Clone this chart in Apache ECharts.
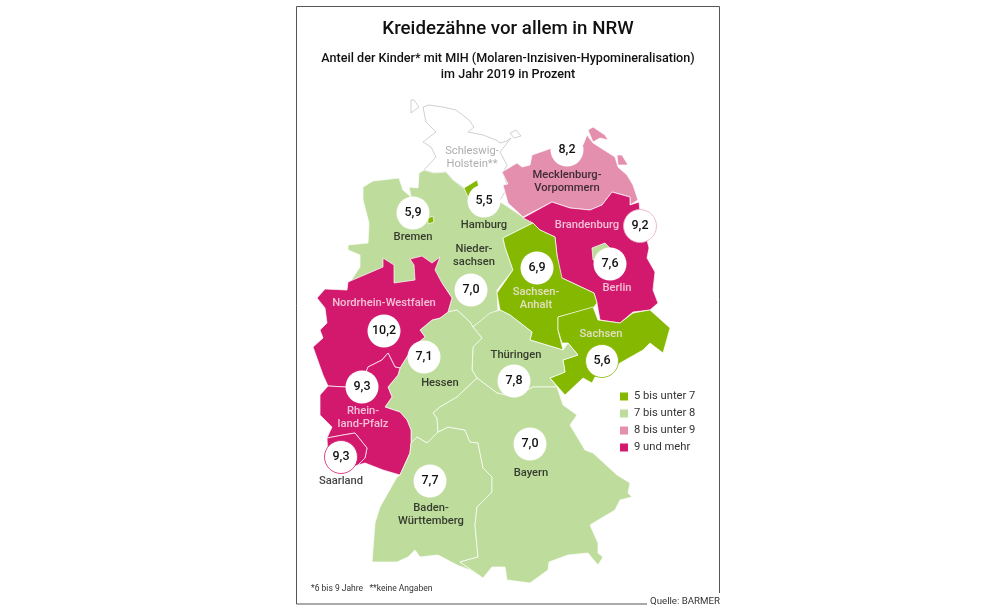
<!DOCTYPE html>
<html>
<head>
<meta charset="utf-8">
<title>Kreidezähne vor allem in NRW</title>
<script src="https://cdn.jsdelivr.net/npm/echarts@6/dist/echarts.min.js"></script>
<style>
  html, body { margin: 0; padding: 0; background: #fff; }
  #chart { width: 1000px; height: 613px; }
</style>
</head>
<body>
<div id="chart"></div>
<script>
// werte
var regionNames = ['Niedersachsen', 'Bremen', 'Hamburg', 'Mecklenburg-Vorpommern', 'Brandenburg', 'Berlin',
  'Sachsen-Anhalt', 'Sachsen', 'Nordrhein-Westfalen', 'Hessen', 'Thüringen', 'Rheinland-Pfalz', 'Saarland',
  'Baden-Württemberg', 'Bayern'];
var regionValues = [7.0, 5.9, 5.5, 8.2, 9.2, 7.6, 6.9, 5.6, 10.2, 7.1, 7.8, 9.3, 9.3, 7.7, 7.0];
var regionLabels = ['Nieder-\nsachsen', 'Bremen', 'Hamburg', 'Mecklenburg-\nVorpommern', 'Brandenburg', 'Berlin',
  'Sachsen-\nAnhalt', 'Sachsen', 'Nordrhein-Westfalen', 'Hessen', 'Thüringen', 'Rhein-\nland-Pfalz', 'Saarland',
  'Baden-\nWürttemberg', 'Bayern'];
var legendLabels = ['5 bis unter 7', '7 bis unter 8', '8 bis unter 9', '9 und mehr'];

var colors = ['#85b800', '#bedc9b', '#e48fae', '#d2196e'];

// umrisse der laender, reihenfolge = zeichenreihenfolge
var shapes = {
  'Schleswig-Holstein': [
    [[423,107],[429,105],[443,107],[456,110],[469,120],[474,127],[468,132],[483,135],[496,140],[500,143],[507,141],
     [511,138],[500,152],[507,165],[503,173],[508,187],[500,200],[464,188],[453,180],[446,172],[434,173],[424,170],
     [436,157],[431,147],[423,142],[436,132],[426,122]],
    [[411,100],[414,100],[419,107],[411,113]],
    [[510,133],[516,130],[521,136],[514,138]]
  ],
  'Niedersachsen': [
    [[363,187],[373,181],[399,178],[403,190],[411,197],[409,187],[418,188],[419,173],[424,170],[434,173],[446,172],
     [453,180],[466,190],[484,197],[502,203],[523,217],[533,223],[503,238],[505,247],[513,270],[497,290],[498,310],
     [473,327],[470,322],[457,310],[448,312],[452,298],[442,283],[420,290],[380,290],[350,282],[360,267],[360,255],
     [348,250],[348,245],[368,243],[369,223],[363,200]]
  ],
  'Bremen': [[[428,218],[433,216],[434,222],[428,224]]],
  'Hamburg': [[[464,188],[477,180],[479,187],[482,195],[476,205],[468,197]]],
  'Mecklenburg-Vorpommern': [
    [[502,172],[517,163],[522,167],[530,165],[532,155],[552,148],[567,140],[583,145],[587,135],[593,143],[615,157],
     [618,167],[627,175],[633,185],[638,200],[630,205],[630,197],[612,192],[602,205],[590,210],[570,208],[552,202],
     [523,217],[508,203],[503,185],[508,184]],
    [[588,130],[593,127],[605,135],[608,140],[600,138],[593,142]],
    [[617,155],[622,155],[628,165],[618,165]]
  ],
  'Brandenburg': [
    [[523,218],[552,202],[570,208],[590,210],[602,205],[612,192],[630,197],[630,205],[639,202],[640,212],[649,248],
     [647,258],[655,272],[653,290],[658,303],[650,310],[633,312],[620,323],[600,320],[597,303],[594,293],[560,277],
     [557,255],[555,237],[540,230],[533,223]]
  ],
  'Berlin': [[[592,248],[605,243],[612,250],[605,262],[593,260]]],
  'Sachsen-Anhalt': [
    [[503,238],[533,223],[540,230],[555,237],[557,255],[562,278],[594,293],[597,303],[593,308],[558,317],[558,330],
     [563,350],[530,340],[532,332],[510,315],[500,310],[497,293],[513,270],[505,247]]
  ],
  'Sachsen': [
    [[558,317],[593,307],[598,320],[620,323],[633,313],[650,310],[670,328],[663,353],[650,343],[643,350],[620,363],
     [603,377],[595,377],[592,383],[583,378],[565,395],[550,378],[565,372],[563,360],[578,355],[568,343],[562,343],[558,330]]
  ],
  'Thüringen': [
    [[473,327],[490,313],[500,310],[510,315],[532,332],[530,340],[563,350],[568,343],[578,355],[563,360],[565,372],
     [550,378],[557,387],[533,387],[515,397],[497,393],[477,378],[472,370],[473,347],[482,338]]
  ],
  'Hessen': [
    [[448,312],[457,310],[470,322],[473,327],[482,338],[473,347],[472,370],[477,378],[457,397],[440,407],[433,413],
     [437,418],[438,432],[427,443],[417,437],[411,443],[411,430],[407,420],[400,412],[385,407],[392,397],[388,387],
     [398,375],[400,368],[413,347],[425,337],[420,330],[432,320],[440,318]]
  ],
  'Nordrhein-Westfalen': [
    [[348,282],[383,267],[383,258],[394,265],[394,283],[415,280],[414,265],[410,259],[422,256],[432,263],[440,257],
     [435,270],[442,283],[452,298],[448,312],[440,318],[432,320],[420,330],[425,337],[413,347],[400,368],[395,367],
     [388,353],[382,360],[368,367],[363,380],[345,387],[328,386],[323,375],[313,347],[323,338],[320,330],[327,323],
     [325,308],[317,298],[325,289],[347,290]]
  ],
  'Rheinland-Pfalz': [
    [[328,386],[345,387],[363,380],[368,367],[382,360],[388,353],[395,367],[400,368],[398,375],[388,387],[392,397],
     [385,407],[400,412],[407,420],[411,430],[411,443],[410,453],[400,475],[383,470],[365,463],[358,465],[365,458],
     [367,448],[355,433],[343,435],[327,438],[332,427],[320,415],[320,395]]
  ],
  'Saarland': [[[327,438],[343,435],[355,433],[367,448],[365,458],[358,465],[341,470],[328,460]]],
  'Baden-Württemberg': [
    [[411,443],[417,437],[427,443],[438,432],[448,427],[465,430],[470,442],[478,443],[483,468],[492,477],[492,492],
     [477,507],[475,525],[478,557],[460,562],[483,578],[470,570],[457,565],[438,555],[420,557],[415,550],[408,557],
     [397,562],[383,562],[372,562],[375,523],[380,507],[397,477],[400,475],[410,453]]
  ],
  'Bayern': [
    [[438,432],[437,418],[433,413],[440,407],[457,397],[477,378],[497,393],[515,397],[533,387],[557,387],[563,405],
     [577,415],[570,425],[585,450],[593,453],[617,475],[630,483],[628,493],[632,497],[620,500],[615,510],[590,525],
     [598,543],[598,553],[603,557],[598,565],[588,553],[568,555],[549,562],[548,570],[530,583],[507,580],[505,567],
     [492,567],[483,578],[460,562],[478,557],[475,525],[477,507],[492,492],[492,477],[483,468],[478,443],[470,442],
     [465,430],[448,427]]
  ]
};

// ankerpunkte der kreise und der namen auf der karte
var circleAnchors = {
  'Niedersachsen': [471,290], 'Bremen': [413,213], 'Hamburg': [484,201], 'Mecklenburg-Vorpommern': [567,150],
  'Brandenburg': [640,226], 'Berlin': [610,264], 'Sachsen-Anhalt': [537,268], 'Sachsen': [602,361],
  'Nordrhein-Westfalen': [384,331], 'Hessen': [424,357], 'Thüringen': [514,381], 'Rheinland-Pfalz': [362,387],
  'Saarland': [341,457], 'Baden-Württemberg': [430,481], 'Bayern': [530,444]
};
var labelAnchors = {
  'Niedersachsen': [474,256], 'Bremen': [413,237], 'Hamburg': [484,225], 'Mecklenburg-Vorpommern': [567,182],
  'Brandenburg': [587,225], 'Berlin': [617,288], 'Sachsen-Anhalt': [536,299], 'Sachsen': [601,334],
  'Nordrhein-Westfalen': [384,303], 'Hessen': [440,383], 'Thüringen': [516,355], 'Rheinland-Pfalz': [363,418],
  'Saarland': [341,481], 'Baden-Württemberg': [431,515], 'Bayern': [531,473]
};
var whiteLabels = ['Brandenburg', 'Berlin', 'Sachsen-Anhalt', 'Sachsen', 'Nordrhein-Westfalen', 'Rheinland-Pfalz'];
var ringColors = { 'Brandenburg': '#e8a9c4', 'Sachsen': '#85b800', 'Saarland': '#d2196e' };

var fontName = 'Roboto, sans-serif';

var features = [];
for (var key in shapes) {
  features.push({
    type: 'Feature',
    properties: { name: key },
    geometry: { type: 'MultiPolygon', coordinates: shapes[key].map(function (ring) { return [ring]; }) }
  });
}
echarts.registerMap('deutschland', { type: 'FeatureCollection', features: features });

var chart = echarts.init(document.getElementById('chart'));

var option = {
  animation: false,
  backgroundColor: '#fff',
  title: [
    { text: 'Kreidezähne vor allem in NRW', left: 508, top: 20, padding: 0, textAlign: 'center',
      textStyle: { fontFamily: fontName, fontSize: 18.7, fontWeight: 500, color: '#111' } },
    { text: 'Anteil der Kinder* mit MIH (Molaren-Inzisiven-Hypomineralisation)\nim Jahr 2019 in Prozent', left: 508, top: 51, padding: 0, textAlign: 'center',
      textStyle: { fontFamily: fontName, fontSize: 12.6, fontWeight: 500, color: '#111', lineHeight: 16 } },
    { text: '*6 bis 9 Jahre   **keine Angaben', left: 311, top: 584, padding: 0,
      textStyle: { fontFamily: fontName, fontSize: 8.5, fontWeight: 400, color: '#333' } },
    { text: 'Quelle: BARMER', left: 650, top: 597, padding: 0,
      textStyle: { fontFamily: fontName, fontSize: 9.7, fontWeight: 400, color: '#333' } }
  ],
  geo: {
    map: 'deutschland',
    silent: true,
    roam: false,
    projection: {
      project: function (p) { return p; },
      unproject: function (p) { return p; }
    },
    boundingCoords: [[0, 0], [1000, 613]],
    layoutCenter: ['50%', '50%'],
    layoutSize: 1000,
    itemStyle: { areaColor: '#fff', borderColor: '#fff', borderWidth: 0.7 },
    label: { show: false },
    emphasis: { disabled: true },
    regions: [{ name: 'Schleswig-Holstein', itemStyle: { areaColor: '#fff', borderColor: '#c4c4c4', borderWidth: 0.8 } }]
  },
  visualMap: {
    type: 'piecewise',
    seriesIndex: 0,
    orient: 'vertical',
    inverse: true,
    align: 'left',
    left: 605,
    top: 376,
    itemWidth: 8,
    itemHeight: 8,
    itemGap: 6,
    itemSymbol: 'rect',
    selectedMode: false,
    hoverLink: false,
    textGap: 6,
    textStyle: { fontFamily: fontName, fontSize: 11.2, color: '#333' },
    pieces: [
      { gte: 5, lt: 7, label: legendLabels[0], color: colors[0] },
      { gte: 7, lt: 8, label: legendLabels[1], color: colors[1] },
      { gte: 8, lt: 9, label: legendLabels[2], color: colors[2] },
      { gte: 9, label: legendLabels[3], color: colors[3] }
    ]
  },
  graphic: [
    { type: 'polyline', silent: true,
      shape: { points: [[647, 604], [296.5, 604], [296.5, 6.5], [719.5, 6.5], [719.5, 593]] },
      style: { stroke: '#555', lineWidth: 1, fill: null } }
  ],
  series: [
    {
      type: 'map',
      geoIndex: 0,
      silent: true,
      data: regionNames.map(function (name, i) { return { name: name, value: regionValues[i] }; })
    },
    {
      type: 'scatter',
      coordinateSystem: 'geo',
      silent: true,
      symbol: 'circle',
      symbolSize: 33,
      z: 3,
      itemStyle: { color: '#fff', opacity: 1 },
      label: {
        show: true,
        position: 'inside',
        fontFamily: fontName,
        fontSize: 12.5,
        fontWeight: 500,
        color: '#111',
        formatter: function (p) { return p.value[2].toFixed(1).replace('.', ','); }
      },
      data: regionNames.map(function (name, i) {
        var a = circleAnchors[name];
        var item = { name: name, value: [a[0], a[1], regionValues[i]] };
        if (ringColors[name]) {
          item.itemStyle = { borderColor: ringColors[name], borderWidth: 0.8 };
        }
        return item;
      })
    },
    {
      type: 'scatter',
      coordinateSystem: 'geo',
      silent: true,
      symbolSize: 0,
      z: 4,
      label: {
        show: true,
        position: 'inside',
        fontFamily: fontName,
        fontSize: 11.2,
        fontWeight: 500,
        lineHeight: 13,
        color: '#111',
        formatter: '{b}'
      },
      data: regionNames.map(function (name, i) {
        var a = labelAnchors[name];
        return {
          name: regionLabels[i],
          value: a,
          label: { color: whiteLabels.indexOf(name) >= 0 ? '#fbeaf1' : '#111' }
        };
      }).concat([{
        name: 'Schleswig-\nHolstein**',
        value: [472, 158],
        label: { color: '#999', fontWeight: 400 }
      }])
    }
  ]
};
chart.setOption(option);
</script>
</body>
</html>
